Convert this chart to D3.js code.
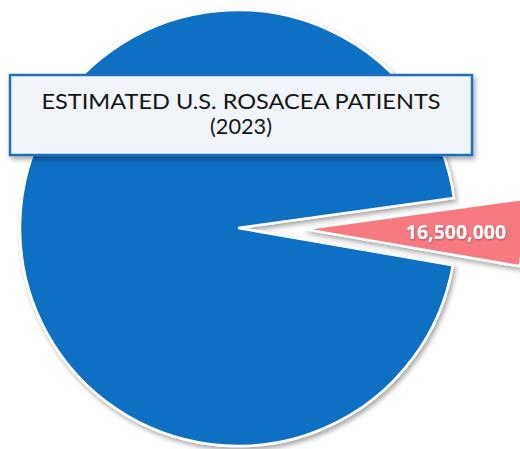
<!DOCTYPE html>
<html>
<head>
<meta charset="utf-8">
<script src="https://cdn.jsdelivr.net/npm/d3@7"></script>
<style>
  html, body { margin: 0; padding: 0; background: #ffffff; }
  svg { display: block; }
</style>
</head>
<body>
<svg id="chart" width="520" height="449"></svg>
<script>
// Estimated U.S. rosacea patients vs. rest of the population (2023)
const categories = ["Rosacea patients", "Rest of U.S. population"];
const values = [16500000, 318500000];
const labels = ["16,500,000", ""];
const colors = ["#f77a80", "#0a6fc2"];
const titleLines = ["ESTIMATED U.S. ROSACEA PATIENTS", "(2023)"];

const svg = d3.select("#chart");
const cx = 238, cy = 228, radius = 218, explode = 67;

const defs = svg.append("defs");
const shadow = defs.append("filter").attr("id", "shadow")
  .attr("x", "-20%").attr("y", "-20%").attr("width", "140%").attr("height", "140%");
shadow.append("feDropShadow").attr("dx", 2).attr("dy", 3).attr("stdDeviation", 2.5)
  .attr("flood-color", "#000").attr("flood-opacity", 0.35);

const textShadow = defs.append("filter").attr("id", "tshadow");
textShadow.append("feDropShadow").attr("dx", 0.5).attr("dy", 1).attr("stdDeviation", 0.8)
  .attr("flood-color", "#000").attr("flood-opacity", 0.35);

const start = 82.1 * Math.PI / 180;
const pie = d3.pie().sort(null).value(d => d.value)
  .startAngle(start).endAngle(start + 2 * Math.PI);
const data = categories.map((c, i) => ({ name: c, value: values[i], label: labels[i], color: colors[i], explode: i === 0 }));
const arcs = pie(data);
const arc = d3.arc().innerRadius(0).outerRadius(radius);

const g = svg.append("g").attr("transform", `translate(${cx},${cy})`);

// draw the large slice first, then the exploded one on top
const order = [1, 0];
order.forEach(i => {
  const a = arcs[i];
  const mid = (a.startAngle + a.endAngle) / 2;
  const off = a.data.explode ? explode : 0;
  const dx = Math.sin(mid) * off, dy = -Math.cos(mid) * off;
  const sg = g.append("g").attr("transform", `translate(${dx},${dy})`);
  sg.append("path")
    .attr("d", arc(a))
    .attr("fill", a.data.color)
    .attr("stroke", "#ffffff")
    .attr("stroke-width", 2.5)
    .attr("stroke-linejoin", "miter")
    .attr("filter", "url(#shadow)");
  if (a.data.label) {
    sg.append("text")
      .attr("x", Math.sin(mid) * 151)
      .attr("y", -Math.cos(mid) * 151 + 7)
      .attr("text-anchor", "middle")
      .attr("font-family", "'Open Sans', sans-serif")
      .attr("font-weight", 700)
      .attr("font-size", 19.5)
      .attr("fill", "#ffffff")
      .attr("filter", "url(#tshadow)")
      .text(a.data.label);
  }
});

// title box
const box = { x: 10, y: 75, w: 462, h: 80 };
svg.append("rect")
  .attr("x", box.x).attr("y", box.y).attr("width", box.w).attr("height", box.h)
  .attr("fill", "#f1f5f9")
  .attr("stroke", "#1f6fbd")
  .attr("stroke-width", 2.5)
  .attr("filter", "url(#shadow)");

svg.append("text")
  .attr("x", 241).attr("y", 108.5)
  .attr("text-anchor", "middle")
  .attr("font-family", "Lato, sans-serif")
  .attr("font-size", 22)
  .attr("fill", "#141414")
  .attr("textLength", 399)
  .attr("lengthAdjust", "spacingAndGlyphs")
  .text(titleLines[0]);
svg.append("text")
  .attr("x", 241).attr("y", 134)
  .attr("text-anchor", "middle")
  .attr("font-family", "Lato, sans-serif")
  .attr("font-size", 22)
  .attr("fill", "#141414")
  .attr("textLength", 62)
  .attr("lengthAdjust", "spacingAndGlyphs")
  .text(titleLines[1]);
</script>
</body>
</html>
